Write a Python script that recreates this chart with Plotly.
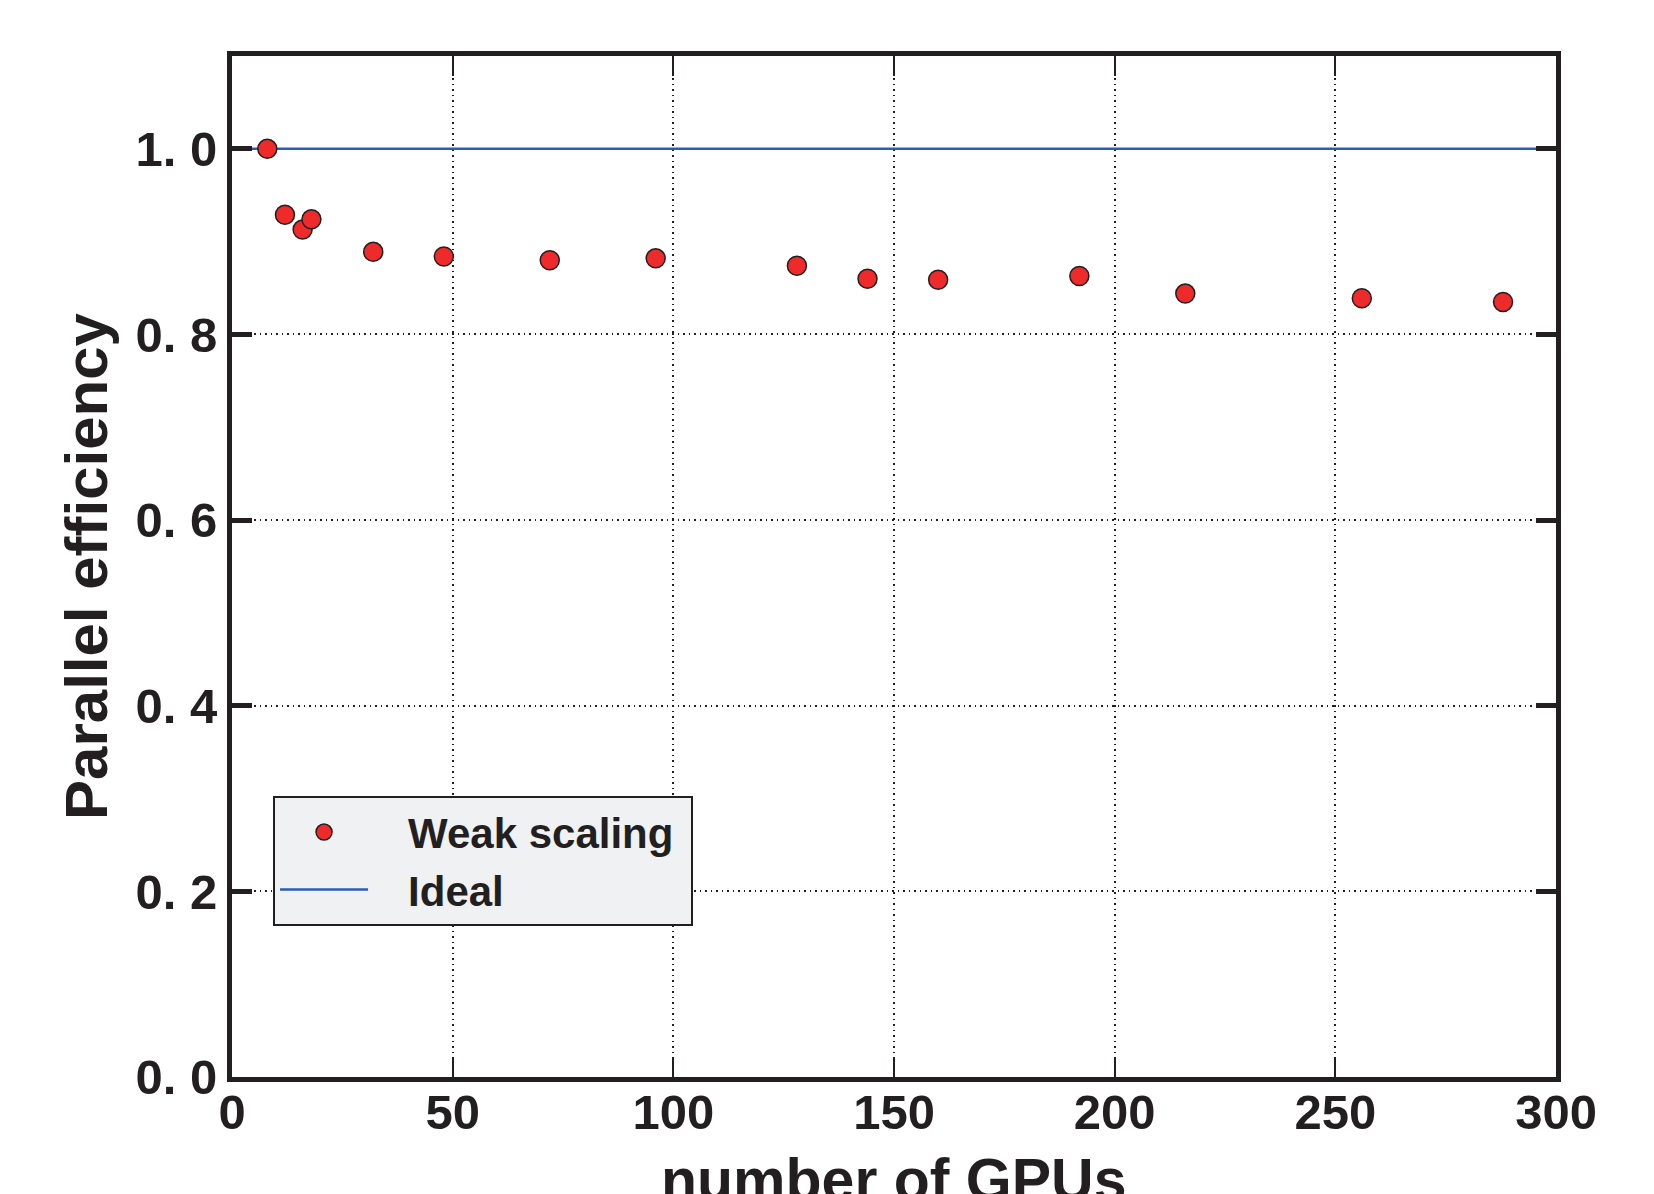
import plotly.graph_objects as go

# Data
gpus = [8, 12, 16, 18, 32, 48, 72, 96, 128, 144, 160, 192, 216, 256, 288]
efficiency = [1.0, 0.929, 0.913, 0.924, 0.889, 0.884, 0.880, 0.882, 0.874,
              0.860, 0.859, 0.863, 0.844, 0.839, 0.835]
ideal_x = [0, 300]
ideal_y = [1.0, 1.0]

x_ticks = [0, 50, 100, 150, 200, 250, 300]
y_ticks = [0.0, 0.2, 0.4, 0.6, 0.8, 1.0]
y_ticktext = ["0. 0", "0. 2", "0. 4", "0. 6", "0. 8", "1. 0"]
x_title = "number of GPUs"
y_title = "Parallel efficiency"

INK = "#231f20"
FONT = "Liberation Sans, Arial, sans-serif"
NB = "\u00a0"

fig = go.Figure()
fig.add_trace(go.Scatter(
    x=ideal_x, y=ideal_y, mode="lines", name=NB * 3 + "Ideal",
    line=dict(color="#2a5fb0", width=2.5), legendrank=2,
))
fig.add_trace(go.Scatter(
    x=gpus, y=efficiency, mode="markers", name=NB * 3 + "Weak scaling" + NB,
    marker=dict(color="#ee2a2a", size=19, line=dict(color=INK, width=1.5)),
    legendrank=1, cliponaxis=False,
))

axis_common = dict(
    showline=True, linewidth=5, linecolor=INK, mirror="ticks",
    ticks="inside", ticklen=20, tickcolor=INK,
    showgrid=True, gridcolor=INK, gridwidth=1.5, griddash="1.5px,4px",
    zeroline=False,
    tickfont=dict(family=FONT, size=49, color=INK, weight="bold"),
)

fig.update_xaxes(
    **axis_common, range=[0, 300], tickvals=x_ticks, tickwidth=2,
    ticklabelstandoff=-12,
    automargin=False,
)
fig.update_yaxes(
    **axis_common, range=[0, 1.1], tickvals=y_ticks, ticktext=y_ticktext,
    tickwidth=5, ticklabelstandoff=0,
    title=dict(text=y_title, standoff=10,
               font=dict(family=FONT, size=60, color=INK, weight="bold")),
    automargin=False,
)

# x-axis title placed as an annotation so it can sit at the very bottom edge
fig.add_annotation(
    text=x_title, xref="paper", yref="paper", x=0.5, y=0,
    xanchor="center", yanchor="top", yshift=-68, showarrow=False,
    font=dict(family=FONT, size=59, color=INK, weight="bold"),
)

fig.update_layout(
    width=1654, height=1194,
    margin=dict(l=232, r=98, t=56, b=117),
    paper_bgcolor="white", plot_bgcolor="white",
    showlegend=True,
    legend=dict(
        x=0.031, y=0.275, xanchor="left", yanchor="top",
        bgcolor="#f0f1f3", bordercolor=INK, borderwidth=2,
        font=dict(family=FONT, size=42, color=INK, weight="bold"),
        itemwidth=88,
    ),
)

fig.write_html("out.html")
